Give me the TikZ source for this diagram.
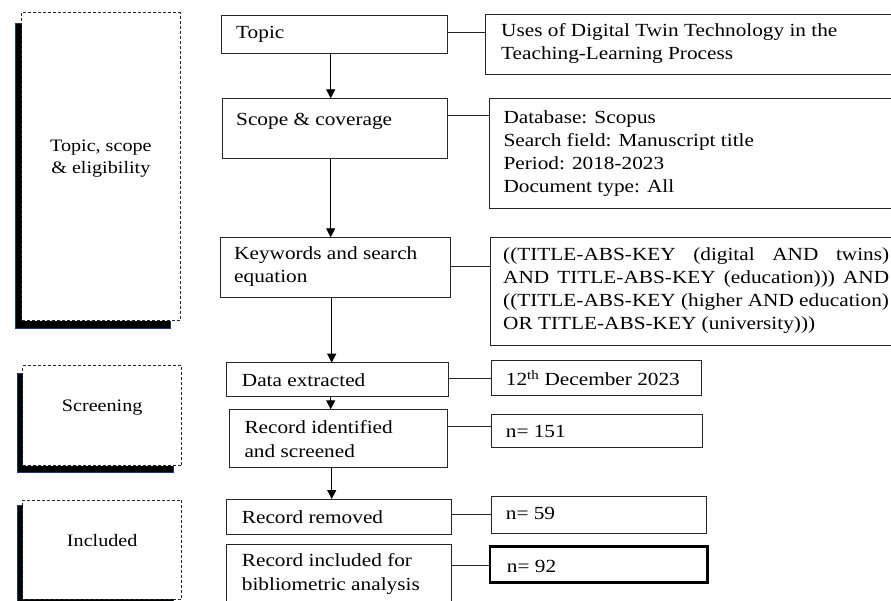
\documentclass[tikz,border=0pt]{standalone}
\usepackage{fontspec}
\setmainfont{Liberation Serif}[FakeStretch=1.15]
\usetikzlibrary{arrows.meta}
\definecolor{shadowedge}{RGB}{31,56,100}
\newcommand{\bx}[6]{\node[#2, anchor=north west, minimum width={#5pt-#3pt}, minimum height={#6pt-#4pt}] (#1) at (#3,#4) {};}
\tikzset{
  box/.style={draw=black!85, line width=0.9pt, fill=white, inner sep=0pt, outer sep=0pt},
  thickbox/.style={draw=black, line width=2.6pt, fill=white, inner sep=0pt, outer sep=0pt},
  dbox/.style={draw=black!85, line width=0.8pt, dash pattern=on 3pt off 2pt, fill=white, inner sep=0pt, outer sep=0pt},
  shad/.style={draw=shadowedge, line width=0.6pt, fill=black, inner sep=0pt, outer sep=0pt},
  txt/.style={anchor=west, align=left, inner sep=0pt, font=\fontsize{18.5}{23}\selectfont},
  ctxt/.style={anchor=center, align=center, inner sep=0pt, font=\fontsize{17.5}{22}\selectfont},
  conn/.style={draw=black!85, line width=0.9pt},
  arr/.style={draw=black, line width=0.9pt, -{Triangle[length=9pt,width=9pt]}}
}
\begin{document}
\begin{tikzpicture}[x=1pt,y=-1pt]
\clip (0,0) rectangle (891,601);
\fill[white] (0,0) rectangle (891,601);
% left phase boxes with shadows
\bx{s1}{shad}{15}{23}{170}{328}
\bx{l1}{dbox}{21.7}{12.7}{180}{320.7}
\bx{s2}{shad}{17.3}{373.3}{173.3}{472.7}
\bx{l2}{dbox}{22.7}{365.7}{181.7}{465.7}
\bx{s3}{shad}{17.3}{505}{173.3}{608}
\bx{l3}{dbox}{22.7}{500}{181.7}{599}
\node[ctxt] (tl1) at ([yshift=8pt]l1.center) {Topic, scope\\\& eligibility};
\node[ctxt] (tl2) at ([yshift=8.5pt]l2.center) {Screening};
\node[ctxt] (tl3) at ([yshift=9pt]l3.center) {Included};
% middle column
\bx{topic}{box}{221.7}{15.7}{447.3}{53.3}
\bx{scope}{box}{222.7}{98.3}{447.3}{158.3}
\bx{kw}{box}{220}{237.3}{450}{297.7}
\bx{data}{box}{226.7}{362.7}{448.3}{396.7}
\bx{rid}{box}{229.3}{409.3}{447.3}{467.7}
\bx{rrem}{box}{226.7}{499}{451}{534.3}
\bx{rinc}{box}{226.7}{544.3}{451}{625}
\node[txt] (ttopic) at (236,34) {Topic};
\node[txt] (tscope) at (236,121.7) {Scope \& coverage};
\node[txt] (tkw) at (234,266.5) {Keywords and search\\equation};
\node[txt] (tdata) at (241.7,380) {Data extracted};
\node[txt, font=\fontsize{18.5}{24}\selectfont] (trid) at (244.3,438.7) {Record identified\\and screened};
\node[txt] (trrem) at (241.7,516.7) {Record removed};
\node[txt, font=\fontsize{18.5}{23.7}\selectfont] (trinc) at (241.7,574.2) {Record included for\\bibliometric analysis};
% right column
\bx{r1}{box}{485.7}{14}{905}{74}
\bx{r2}{box}{489}{98.3}{905}{208.3}
\bx{r3}{box}{490}{237.3}{905}{345.7}
\bx{r4}{box}{491}{360.7}{701}{395.7}
\bx{r5}{box}{491}{414}{702.3}{447.3}
\bx{r6}{box}{491}{496}{706.7}{533.3}
\bx{r7}{thickbox}{490}{546.7}{707.7}{582.7}
\node[txt] (tr1) at (501,43.3) {Uses of Digital Twin Technology in the\\Teaching-Learning Process};
\node[txt] (tr2) at (503.3,153.8) {Database: Scopus\\Search field: Manuscript title\\Period: 2018-2023\\Document type: All};
\node[txt] (tr3) at (503,291) {\makebox[386pt][s]{((TITLE-ABS-KEY (digital AND twins)}\\\makebox[386pt][s]{AND TITLE-ABS-KEY (education))) AND}\\((TITLE-ABS-KEY (higher AND education)\\OR TITLE-ABS-KEY (university)))};
\node[txt] (tr4) at (505.7,378.3) {12\textsuperscript{th} December 2023};
\node[txt] (tr5) at (505.7,431.7) {n= 151};
\node[txt] (tr6) at (505.7,513.3) {n= 59};
\node[txt] (tr7) at (506.7,566) {n= 92};
% connectors
\coordinate (c1) at ([yshift=2.2pt]topic.east);
\coordinate (c2) at ([yshift=13.3pt]scope.east);
\coordinate (c3) at ([yshift=0.8pt]kw.east);
\coordinate (c4) at ([yshift=1.4pt]data.east);
\coordinate (c5) at ([yshift=11.8pt]rid.east);
\coordinate (c6) at ([yshift=2.3pt]rrem.east);
\coordinate (c7) at ([yshift=-20.7pt]rinc.north east);
\draw[conn] (c1) -- (c1 -| r1.west);
\draw[conn] (c2) -- (c2 -| r2.west);
\draw[conn] (c3) -- (c3 -| r3.west);
\draw[conn] (c4) -- (c4 -| r4.west);
\draw[conn] (c5) -- (c5 -| r5.west);
\draw[conn] (c6) -- (c6 -| r6.west);
\draw[conn] (c7) -- (c7 -| r7.west);
% arrows
\coordinate (a1) at ([xshift=-3.8pt]topic.south);
\coordinate (a2) at ([xshift=-4.3pt]scope.south);
\coordinate (a3) at ([xshift=-3.3pt]kw.south);
\coordinate (a4) at ([xshift=-6.8pt]data.south);
\coordinate (a5) at ([xshift=-6.6pt]rid.south);
\draw[arr] (a1) -- (a1 |- scope.north);
\draw[arr] (a2) -- (a2 |- kw.north);
\draw[arr] (a3) -- (a3 |- data.north);
\draw[arr] (a4) -- (a4 |- rid.north);
\draw[arr] (a5) -- (a5 |- rrem.north);
\end{tikzpicture}
\end{document}
